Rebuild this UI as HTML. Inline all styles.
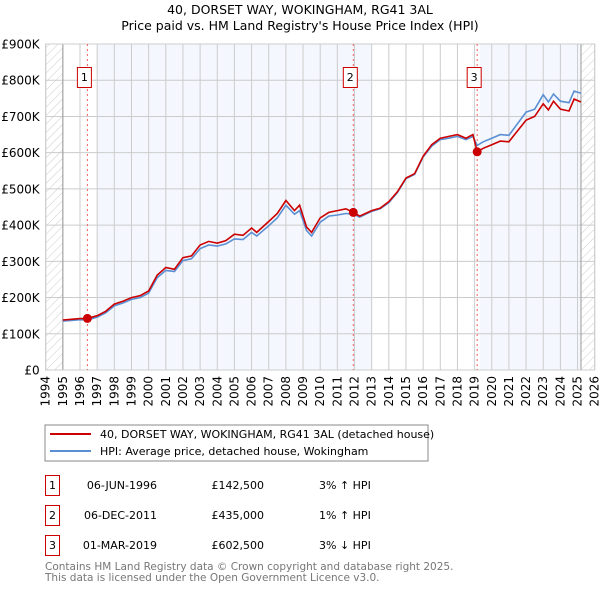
<!DOCTYPE html>
<html><head><meta charset="utf-8"><style>
body{margin:0;background:#fff;font-family:"DejaVu Sans","Liberation Sans",sans-serif;}
svg text{font-family:"DejaVu Sans","Liberation Sans",sans-serif;}
</style></head><body>
<svg width="600" height="590" xmlns="http://www.w3.org/2000/svg" id="chart">
<defs><pattern id="hatch" width="6" height="6" patternUnits="userSpaceOnUse" patternTransform="rotate(45)"><line x1="0" y1="0" x2="0" y2="6" stroke="#ccc" stroke-width="1"/></pattern></defs>
<text x="300" y="14" text-anchor="middle" font-size="12.5">40, DORSET WAY, WOKINGHAM, RG41 3AL</text>
<text x="300" y="30" text-anchor="middle" font-size="12.5">Price paid vs. HM Land Registry's House Price Index (HPI)</text>
<g id="plot"></g>
<rect x="45" y="425" width="383" height="36" fill="#fff" stroke="#888"/>
<line x1="50" y1="434" x2="91" y2="434" stroke="#cc0000" stroke-width="2"/>
<text x="100" y="438" font-size="11">40, DORSET WAY, WOKINGHAM, RG41 3AL (detached house)</text>
<line x1="50" y1="451" x2="91" y2="451" stroke="#5b8fd4" stroke-width="2"/>
<text x="100" y="455" font-size="11">HPI: Average price, detached house, Wokingham</text>
<g font-size="11">
<rect x="45.5" y="475.5" width="14" height="20" fill="none" stroke="#cc0000"/><text x="52.5" y="489" text-anchor="middle">1</text>
<text x="157" y="489" text-anchor="end">06-JUN-1996</text><text x="264" y="489" text-anchor="end">£142,500</text><text x="319" y="489">3% ↑ HPI</text>
<rect x="45.5" y="505.5" width="14" height="20" fill="none" stroke="#cc0000"/><text x="52.5" y="519" text-anchor="middle">2</text>
<text x="157" y="519" text-anchor="end">06-DEC-2011</text><text x="264" y="519" text-anchor="end">£435,000</text><text x="319" y="519">1% ↑ HPI</text>
<rect x="45.5" y="535.5" width="14" height="20" fill="none" stroke="#cc0000"/><text x="52.5" y="549" text-anchor="middle">3</text>
<text x="157" y="549" text-anchor="end">01-MAR-2019</text><text x="264" y="549" text-anchor="end">£602,500</text><text x="319" y="549">3% ↓ HPI</text>
</g>
<text x="45" y="570" font-size="10.5" fill="#777">Contains HM Land Registry data © Crown copyright and database right 2025.</text>
<text x="45" y="581" font-size="10.5" fill="#777">This data is licensed under the Open Government Licence v3.0.</text>
</svg>
<script>
const years=[1995.0,1995.5,1996.0,1996.43,1997.0,1997.5,1998.0,1998.5,1999.0,1999.5,2000.0,2000.5,2001.0,2001.5,2002.0,2002.5,2003.0,2003.5,2004.0,2004.5,2005.0,2005.5,2006.0,2006.3,2007.0,2007.5,2008.0,2008.5,2008.8,2009.2,2009.5,2010.0,2010.5,2011.0,2011.5,2011.93,2012.3,2013.0,2013.5,2014.0,2014.5,2015.0,2015.5,2016.0,2016.5,2017.0,2017.5,2018.0,2018.5,2018.9,2019.15,2019.5,2020.0,2020.5,2021.0,2021.5,2022.0,2022.5,2023.0,2023.3,2023.6,2024.0,2024.5,2024.8,2025.2];
const priceSeries=[138,140,142,142.5,150,162,182,190,200,205,218,262,283,278,310,315,345,355,350,357,375,372,392,380,410,432,468,440,455,395,380,420,435,440,445,435,425,440,447,465,492,530,542,590,622,640,645,650,640,650,602.5,612,622,632,630,660,690,700,735,718,742,720,715,748,740];
const hpiSeries=[135,137,139,138,146,158,177,185,195,200,212,255,275,272,302,307,335,345,342,348,362,360,380,370,398,420,455,430,440,385,370,408,425,428,432,430,422,438,445,462,490,528,540,588,618,636,640,645,636,645,620,630,640,650,648,680,712,720,760,740,762,742,738,770,764];
const sales=[{x:1996.43,v:142.5,label:"1"},{x:2011.93,v:435,label:"2"},{x:2019.15,v:602.5,label:"3"}];
const yTicks=[0,100,200,300,400,500,600,700,800,900];
const yTickLabels=["£0","£100K","£200K","£300K","£400K","£500K","£600K","£700K","£800K","£900K"];
const xTicks=[1994,1995,1996,1997,1998,1999,2000,2001,2002,2003,2004,2005,2006,2007,2008,2009,2010,2011,2012,2013,2014,2015,2016,2017,2018,2019,2020,2021,2022,2023,2024,2025,2026];

const L=45.7,R=594.7,T=44,B=370;
const X=y=>L+(y-1994)/(2026-1994)*(R-L);
const Y=v=>B-v/900*(B-T);
const ns="http://www.w3.org/2000/svg";
const g=document.getElementById('plot');
function mk(t,a,p){const e=document.createElementNS(ns,t);for(const k in a)e.setAttribute(k,a[k]);(p||g).appendChild(e);return e;}
mk('rect',{x:L,y:T,width:R-L,height:B-T,fill:'#fff'});
let e=mk('rect',{x:X(1997),y:T,width:X(2013)-X(1997),height:B-T,fill:'#f4f7fd'});


e=mk('rect',{x:X(2019.3),y:T,width:X(2025.2)-X(2019.3),height:B-T,fill:'#f4f7fd'});


e=mk('rect',{x:L,y:T,width:X(1995)-L,height:B-T,fill:'url(#hatch)'});


e=mk('rect',{x:X(2025.2),y:T,width:R-X(2025.2),height:B-T,fill:'url(#hatch)'});


xTicks.forEach(t=>{mk('line',{x1:X(t),y1:T,x2:X(t),y2:B,stroke:'#ccc','stroke-width':1});
 const tx=mk('text',{x:0,y:0,'font-size':12,'text-anchor':'end',transform:`translate(${X(t)+4},${B+6}) rotate(-90)`});tx.textContent=t;
 
 });
yTicks.forEach((t,i)=>{mk('line',{x1:L,y1:Y(t),x2:R,y2:Y(t),stroke:'#ccc','stroke-width':1});
 const tx=mk('text',{x:L-6,y:Y(t)+4.5,'font-size':12,'text-anchor':'end'});tx.textContent=yTickLabels[i];
 
 });
mk('line',{x1:X(1995),y1:T,x2:X(1995),y2:B,stroke:'#999'});
mk('line',{x1:X(2025.2),y1:T,x2:X(2025.2),y2:B,stroke:'#999'});
mk('rect',{x:L,y:T,width:R-L,height:B-T,fill:'none',stroke:'#ccc'});
sales.forEach(s=>{const l=mk('line',{x1:X(s.x),y1:T,x2:X(s.x),y2:B,stroke:'#f06060','stroke-dasharray':'2,3'});
 
 });
function path(vals,col,name){const d=vals.map((v,i)=>(i?'L':'M')+X(years[i]).toFixed(1)+','+Y(v).toFixed(1)).join('');
 const p=mk('path',{d:d,fill:'none',stroke:col,'stroke-width':1.6});
 
 }
path(hpiSeries,'#5b8fd4','hpi-line');
path(priceSeries,'#cc0000','price-line');
sales.forEach(s=>{const c=mk('circle',{cx:X(s.x),cy:Y(s.v),r:4.5,fill:'#cc0000'});
 
 
 const bx=X(s.x)-3-7;
 const r=mk('rect',{x:bx,y:67.5,width:14,height:20,fill:'#fff',stroke:'#cc0000'});
 
 
 const t=mk('text',{x:bx+7,y:81,'font-size':11,'text-anchor':'middle'});t.textContent=s.label;
 
 });
</script>
</body></html>
